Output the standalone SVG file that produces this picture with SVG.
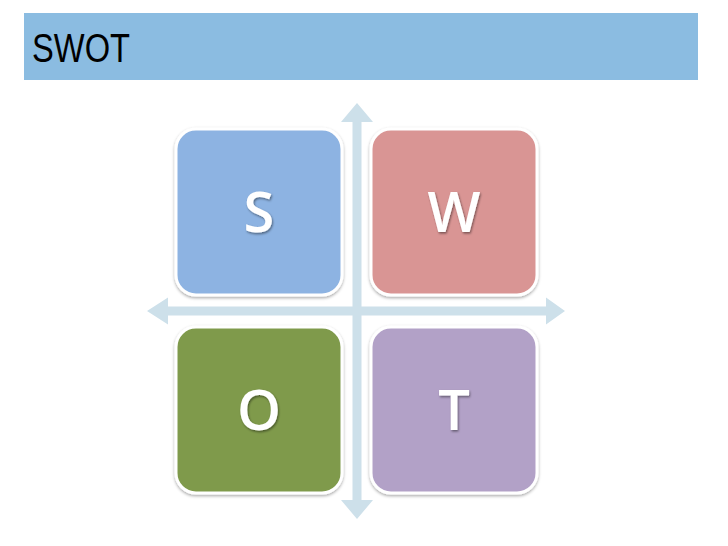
<svg xmlns="http://www.w3.org/2000/svg" width="728" height="546" viewBox="0 0 728 546">
<defs>
<filter id="sh" x="-10%" y="-10%" width="120%" height="120%">
<feDropShadow dx="0" dy="1.5" stdDeviation="1.5" flood-color="#000" flood-opacity="0.35"/>
</filter>
<filter id="tsh" x="-20%" y="-20%" width="140%" height="140%">
<feDropShadow dx="1" dy="1.5" stdDeviation="1" flood-color="#000" flood-opacity="0.45"/>
</filter>
</defs>
<style>
.box{stroke:#ffffff;stroke-width:3;filter:url(#sh)}
.lbl{font-family:"Open Sans","Liberation Sans",sans-serif;font-size:56px;font-weight:600;fill:#ffffff;text-anchor:middle;filter:url(#tsh)}
.arr{fill:#cde0ea}
</style>
<rect width="728" height="546" fill="#ffffff"/>
<g id="header">
<rect x="24" y="13" width="674" height="67" fill="#8bbce1"/>
<text x="32" y="62" font-family="Liberation Sans, Arial, sans-serif" font-size="40" fill="#000000" textLength="98" lengthAdjust="spacingAndGlyphs">SWOT</text>
</g>
<g id="connectors">
<polygon class="arr" points="357,103 373,122 361.5,122 361.5,500 373,500 357,519 341,500 352.5,500 352.5,122 341,122"/>
<polygon class="arr" points="147,311 168,297.5 168,306.5 546,306.5 546,297.5 565,311 546,324.5 546,315.5 168,315.5 168,324.5"/>
</g>
<g id="node-S">
<rect class="box" x="176" y="129" width="166" height="166" rx="20" fill="#8db3e2"/>
<text class="lbl" x="259" y="232">S</text>
</g>
<g id="node-W">
<rect class="box" x="371" y="129" width="166" height="166" rx="20" fill="#d99594"/>
<text class="lbl" x="454" y="232">W</text>
</g>
<g id="node-O">
<rect class="box" x="176" y="327" width="166" height="166" rx="20" fill="#7f9a4c"/>
<text class="lbl" x="259" y="430">O</text>
</g>
<g id="node-T">
<rect class="box" x="371" y="327" width="166" height="166" rx="20" fill="#b2a1c7"/>
<text class="lbl" x="454" y="430">T</text>
</g>
</svg>
